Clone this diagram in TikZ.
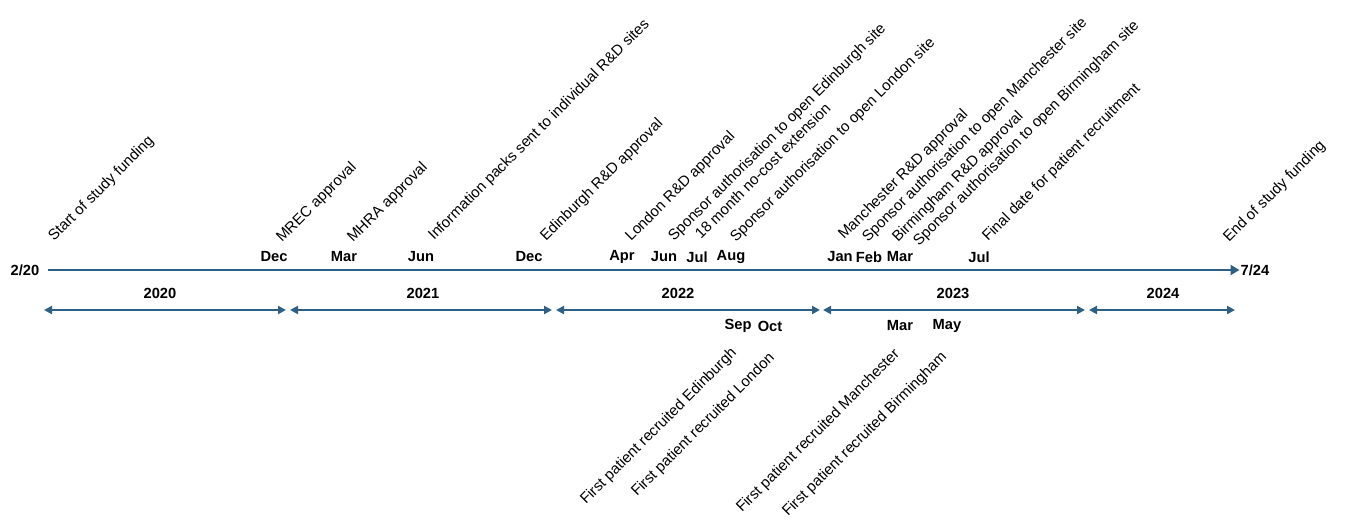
\documentclass[tikz,border=0pt]{standalone}
\usepackage{fontspec}
\setmainfont{Liberation Sans}
\usetikzlibrary{positioning,arrows.meta}
\definecolor{lineblue}{RGB}{46,96,134}
\tikzset{
  event/.style={rotate=45,anchor=base west,inner sep=0pt,font=\fontsize{15}{15}\selectfont},
  month/.style={inner sep=1pt,font=\bfseries\fontsize{14.7}{15}\selectfont},
  span/.style={lineblue,line width=2.2pt,{Triangle[length=8pt,width=8pt]}-{Triangle[length=8pt,width=8pt]}},
}
\begin{document}
\begin{tikzpicture}[x=1pt,y=-1pt]
	\useasboundingbox (0,0) rectangle (1355,523);
	% main line
	\node(begin)  [month] at (25,270) {2/20};
	\node(finish) [month] at (1255,270) {7/24};
	\draw[lineblue,line width=2.8pt,-{Triangle[length=9pt,width=10pt]}] (begin.east) ++(7,0) coordinate(a) (a) -- (finish.west);

	% years
	\coordinate(s0) at (44,310);   \coordinate(e0) at (286,310);
	\coordinate(s1) at (290,310);  \coordinate(e1) at (552,310);
	\coordinate(s2) at (556,310);  \coordinate(e2) at (820,310);
	\coordinate(s3) at (823,310);  \coordinate(e3) at (1085,310);
	\coordinate(s4) at (1089,310); \coordinate(e4) at (1235,310);
	\draw[span] (s0) -- (e0);
	\draw[span] (s1) -- (e1);
	\draw[span] (s2) -- (e2);
	\draw[span] (s3) -- (e3);
	\draw[span] (s4) -- (e4);
	\node(y20) [month] at (160,293) {2020};
	\node(y21) [month] at (423,293) {2021};
	\node(y22) [month] at (678,293) {2022};
	\node(y23) [month] at (953,293) {2023};
	\node(y24) [month] at (1163,293) {2024};

	% months above the line
	\node(dec20) [month] at (274,257) {Dec};
	\node(mar21) [month] at (344,257) {Mar};
	\node(jun21) [month] at (421,257) {Jun};
	\node(dec21) [month] at (529,257) {Dec};
	\node(apr22) [month] at (622,257) {Apr};
	\node(jun22) [month] at (664,257) {Jun};
	\node(jul22) [month] at (697,257) {Jul};
	\node(aug22) [month] at (731,257) {Aug};
	\node(jan23) [month] at (840,257) {Jan};
	\node(feb23) [month] at (869,257) {Feb};
	\node(mar23) [month] at (900,257) {Mar};
	\node(jul23) [month] at (979,257) {Jul};

	% months below the line
	\node(sep22)  [month] at (738,326) {Sep};
	\node(oct22)  [month] at (770,326) {Oct};
	\node(mar23b) [month] at (900,326) {Mar};
	\node(may23)  [month] at (947,326) {May};

	% events
	\node(ev1)  [event] at (54,242)  {Start of study funding};
	\node(ev2)  [event] at (282,243) {MREC approval};
	\node(ev3)  [event] at (353,243) {MHRA approval};
	\node(ev4)  [event] at (434,241) {Information packs sent to individual R\&D sites};
	\node(ev5)  [event] at (546,242) {Edinburgh R\&D approval};
	\node(ev6)  [event] at (631,242) {London R\&D approval};
	\node(ev7)  [event] at (674,242) {Sponsor authorisation to open Edinburgh site};
	\node(ev8)  [event] at (701,240) {18 month no-cost extension};
	\node(ev9)  [event] at (736,243) {Sponsor authorisation to open London site};
	\node(ev10) [event] at (844,240) {Manchester R\&D approval};
	\node(ev11) [event] at (868,243) {Sponsor authorisation to open Manchester site};
	\node(ev12) [event] at (898,243) {Birmingham R\&D approval};
	\node(ev13) [event] at (919,247) {Sponsor authorisation to open Birmingham site};
	\node(ev14) [event] at (988,242) {Final date for patient recruitment};
	\node(ev15) [event] at (1229,243) {End of study funding};

	% recruitment
	\node(fp1) [event] at (586,505) {First patient recruited Edinburgh};
	\node(fp2) [event] at (637,497) {First patient recruited London};
	\node(fp3) [event] at (742,513) {First patient recruited Manchester};
	\node(fp4) [event] at (788,517) {First patient recruited Birmingham};
\end{tikzpicture}
\end{document}
